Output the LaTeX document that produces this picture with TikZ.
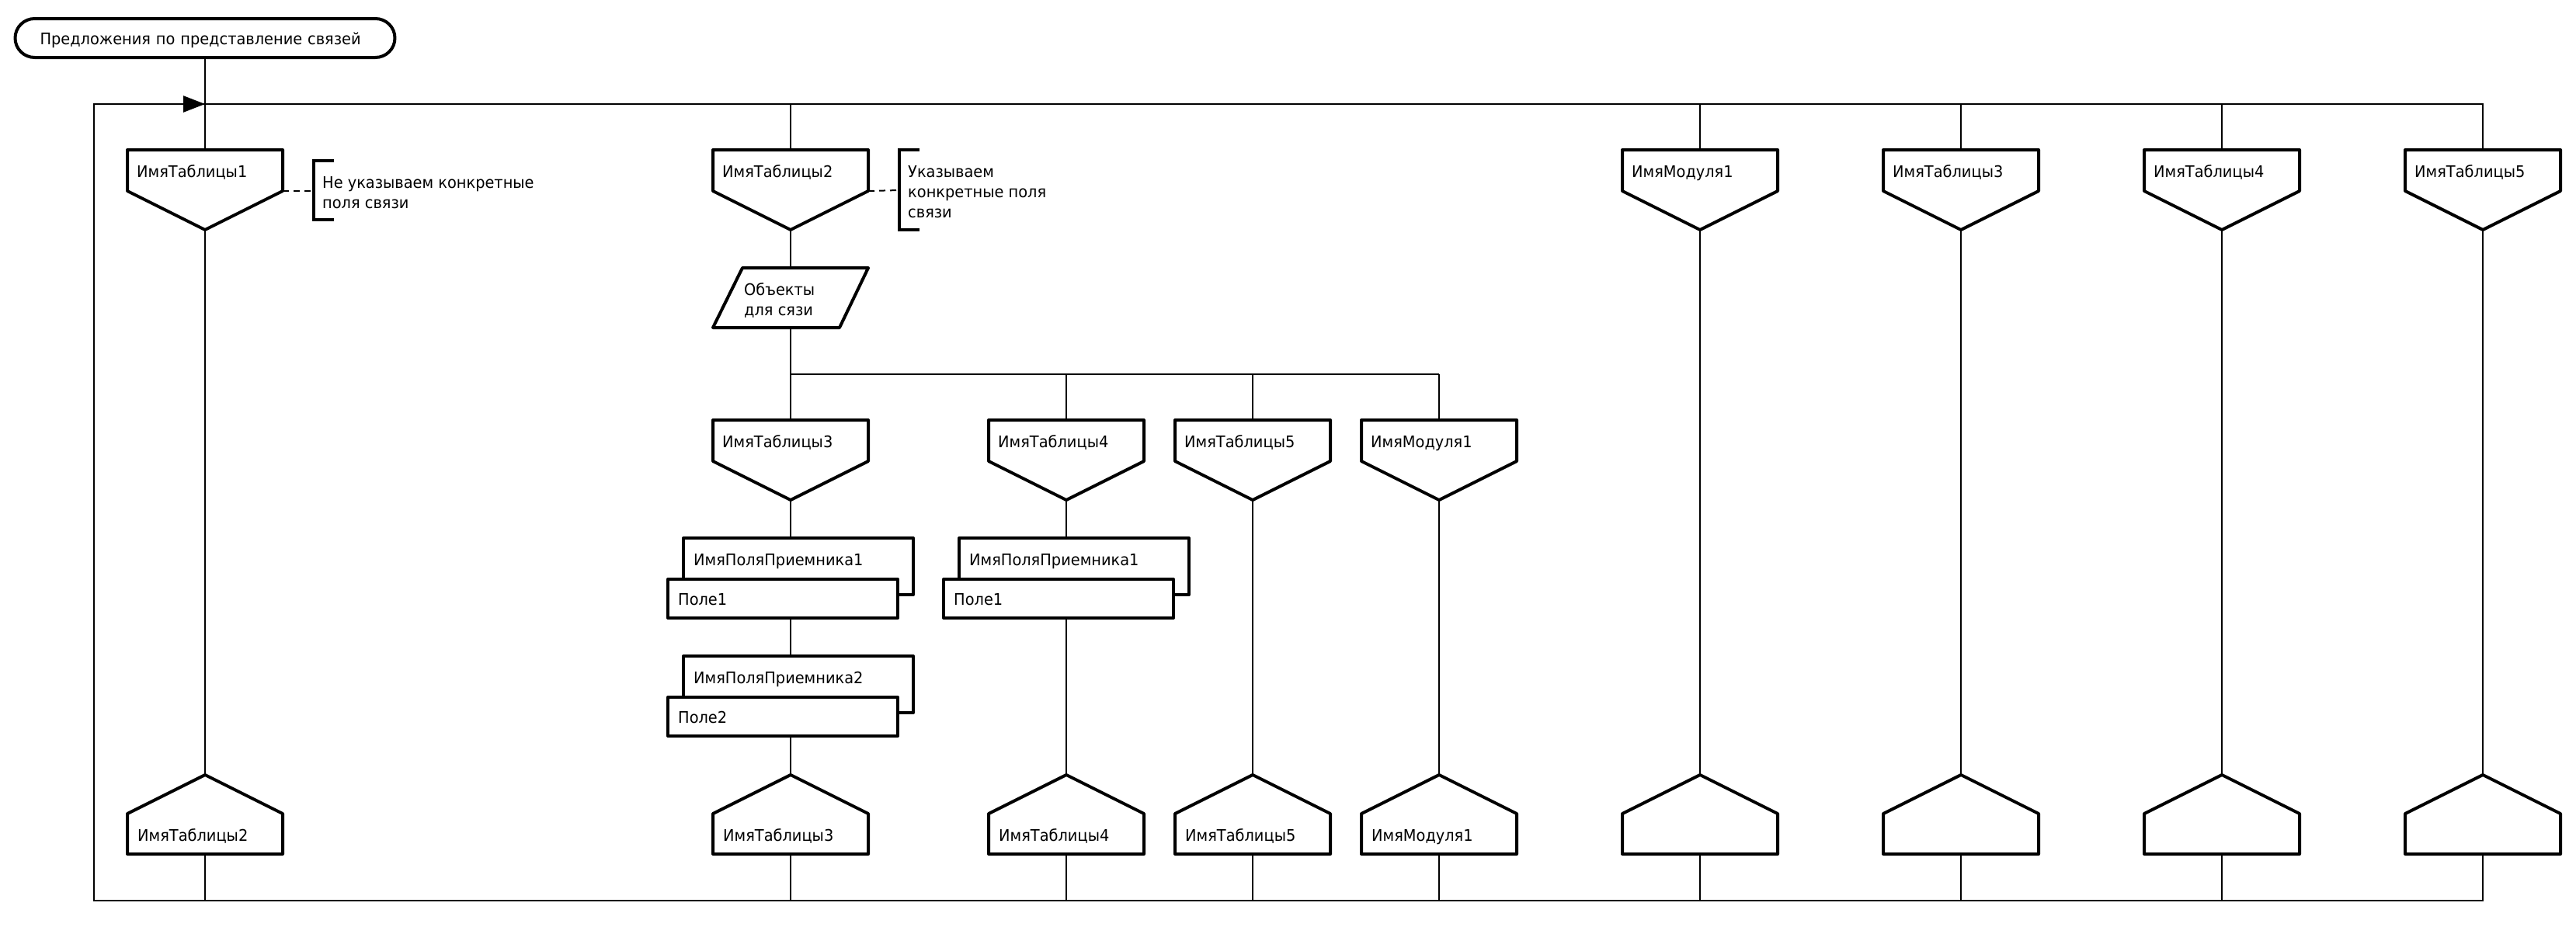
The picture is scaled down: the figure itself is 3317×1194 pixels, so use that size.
\documentclass[tikz,border=0pt]{standalone}
\usepackage{fontspec}
\setmainfont{DejaVu Sans}[FakeStretch=0.94]
\usetikzlibrary{arrows.meta}

\tikzset{
  shp/.style={line width=4pt, line join=round, fill=white},
  link/.style={line width=2pt},
  frm/.style={line width=2.5pt},
  brk/.style={line width=4pt},
  lbl/.style={inner sep=0pt, anchor=base west, font=\fontsize{20.6}{26}\selectfont},
  % table going in (point down)
  pics/tabtop/.style={code={
    \draw[shp] (-100,0) -- (100,0) -- (100,53) -- (0,103) -- (-100,53) -- cycle;
    \node[lbl] (-txt) at (-88,35) {#1};
    \coordinate (-in) at (0,0);
    \coordinate (-out) at (0,103);
    \coordinate (-side) at (100,53);
  }},
  % table going out (point up)
  pics/tabbot/.style={code={
    \draw[shp] (0,0) -- (100,50) -- (100,102) -- (-100,102) -- (-100,50) -- cycle;
    \node[lbl] (-txt) at (-87,85) {#1};
    \coordinate (-in) at (0,0);
    \coordinate (-out) at (0,102);
  }},
  % field pair
  pics/fld/.style 2 args={code={
    \draw[shp] (-138,0) rectangle (158,73);
    \draw[shp] (-158,53) rectangle (138,103);
    \node[lbl] (-top) at (-125,35) {#1};
    \node[lbl] (-bot) at (-145,86) {#2};
    \coordinate (-in) at (0,0);
    \coordinate (-out) at (0,103);
  }},
  % data
  pics/datain/.style={code={
    \draw[shp] (-62,0) -- (100,0) -- (63,77) -- (-100,77) -- cycle;
    \node[lbl, anchor=north west, align=left] (-txt) at (-60,16.8) {\strut #1};
    \coordinate (-in) at (0,0);
    \coordinate (-out) at (0,77);
  }}
}

\begin{document}
\begin{tikzpicture}[x=1pt, y=-1pt]
    \useasboundingbox (0,0) rectangle (3317,1194);
    \coordinate (top) at (0,134);
    \coordinate (bot) at (0,1160);
    \coordinate (br) at (0,482);

    % Frame
    \draw[frm] (121,134) rectangle (3197,1160);
    \draw[frm, -{Triangle[length=28pt,width=21pt]}] (121,134) -- (264,134);

    % Title
    \node[draw, shp, rounded corners=25pt, minimum width=489pt, minimum height=50pt,
      inner xsep=32pt, text width=425pt, align=left, text height=16pt, text depth=0pt,
      font=\fontsize{20.6}{26}\selectfont] (title) at (264,49) {Предложения по представление связей};

    % Column 1
    \pic (t1) at (264,193) {tabtop=ИмяТаблицы1};
    \pic (b1) at (264,998) {tabbot=ИмяТаблицы2};
    \draw[link] (title) -- (t1-in);
    \draw[link] (t1-out) -- (b1-in);
    \draw[link] (b1-out) -- (b1-out |- bot);

    % Note 1
    \coordinate (n1) at (404,246);
    \draw[link, dash pattern=on 8pt off 6pt] (t1-side) -- (n1);
    \draw[brk] (n1) ++(26,-39) -- ++(-26,0) -- ++(0,76) -- ++(26,0);
    \node[lbl, anchor=north west, align=left] (note1) at (415,223.8) {\strut Не указываем конкретные\\поля связи};

    % Column 2
    \pic (t2) at (1018,193) {tabtop=ИмяТаблицы2};
    \pic (obj) at (1018,345) {datain={Объекты\\для сязи}};
    \pic (r1) at (1018,541) {tabtop=ИмяТаблицы3};
    \pic (f1) at (1018,693) {fld={ИмяПоляПриемника1}{Поле1}};
    \pic (f2) at (1018,845) {fld={ИмяПоляПриемника2}{Поле2}};
    \pic (b2) at (1018,998) {tabbot=ИмяТаблицы3};
    \draw[link] (t2-in |- top) -- (t2-in);
    \draw[link] (t2-out) -- (obj-in);
    \draw[link] (obj-out) -- (r1-in);
    \draw[link] (r1-out) -- (f1-in);
    \draw[link] (f1-out) -- (f2-in);
    \draw[link] (f2-out) -- (b2-in);
    \draw[link] (b2-out) -- (b2-out |- bot);

    % Note 2
    \coordinate (n2) at (1158,245);
    \draw[link, dash pattern=on 8pt off 6pt] (t2-side) -- (n2);
    \draw[brk] (n2) ++(26,-52) -- ++(-26,0) -- ++(0,103) -- ++(26,0);
    \node[lbl, anchor=north west, align=left] (note2) at (1169,210.3) {\strut Указываем\\конкретные поля\\связи};

    % Branch
    \pic (r2) at (1373,541) {tabtop=ИмяТаблицы4};
    \pic (r3) at (1613,541) {tabtop=ИмяТаблицы5};
    \pic (r4) at (1853,541) {tabtop=ИмяМодуля1};
    \pic (f3) at (1373,693) {fld={ИмяПоляПриемника1}{Поле1}};
    \pic (b3) at (1373,998) {tabbot=ИмяТаблицы4};
    \pic (b4) at (1613,998) {tabbot=ИмяТаблицы5};
    \pic (b5) at (1853,998) {tabbot=ИмяМодуля1};
    \draw[link] (r1-in |- br) -- (r4-in |- br);
    \foreach \n in {r2,r3,r4} \draw[link] (\n-in |- br) -- (\n-in);
    \draw[link] (r2-out) -- (f3-in);
    \draw[link] (f3-out) -- (b3-in);
    \draw[link] (r3-out) -- (b4-in);
    \draw[link] (r4-out) -- (b5-in);
    \foreach \n in {b3,b4,b5} \draw[link] (\n-out) -- (\n-out |- bot);

    % Right columns
    \foreach \n/\x/\t in {m1/2189/ИмяМодуля1, t3/2525/ИмяТаблицы3, t4/2861/ИмяТаблицы4, t5/3197/ИмяТаблицы5} {
        \pic (\n) at (\x,193) {tabtop=\t};
        \pic (\n b) at (\x,998) {tabbot={}};
        \draw[link] (\n-in |- top) -- (\n-in);
        \draw[link] (\n-out) -- (\n b-in);
        \draw[link] (\n b-out) -- (\n b-out |- bot);
    }
\end{tikzpicture}
\end{document}
